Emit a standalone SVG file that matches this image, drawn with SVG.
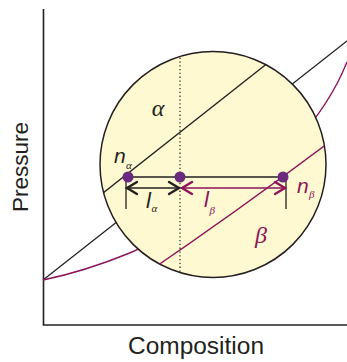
<svg xmlns="http://www.w3.org/2000/svg" width="347" height="362" viewBox="0 0 347 362">
<style>
.ax{stroke:#231f20;stroke-width:1.6;fill:none}
.blk{stroke:#231f20;stroke-width:1.3;fill:none}
.pur{stroke:#8c1459;stroke-width:1.4;fill:none}
.lbl{font-family:"Liberation Sans",Arial,sans-serif;fill:#231f20}
.it{font-family:"Liberation Sans",Arial,sans-serif;font-style:italic}
.gr{font-family:"Liberation Serif","Times New Roman",serif;font-style:italic}
.dot{fill:#6b2a7f}
</style>
<defs>
<clipPath id="cc"><circle cx="213" cy="164.5" r="113"/></clipPath>
</defs>
<g id="axes">
<line class="ax" x1="43.5" y1="9" x2="43.5" y2="325"/>
<line class="ax" x1="42.7" y1="325" x2="347" y2="325"/>
<text class="lbl" font-size="22" transform="translate(28,167) rotate(-90)" text-anchor="middle" textLength="90" lengthAdjust="spacingAndGlyphs">Pressure</text>
<text class="lbl" font-size="23" x="196" y="354" text-anchor="middle" textLength="136" lengthAdjust="spacingAndGlyphs">Composition</text>
</g>
<g id="outer-curves">
<line class="blk" x1="43" y1="280" x2="347" y2="41"/>
<path class="pur" d="M43,280 C150,258 300,180 347,62"/>
</g>
<g id="magnifier">
<circle cx="213" cy="164.5" r="113" fill="#fff9d2" stroke="#231f20" stroke-width="1.5"/>
<g clip-path="url(#cc)">
<line class="blk" x1="90" y1="203.3" x2="300" y2="37.6"/>
<path class="pur" d="M140,277.5 Q245,206 340,134"/>
<line x1="180" y1="50" x2="180" y2="280" stroke="#231f20" stroke-width="1.2" stroke-dasharray="1.3 2.5"/>
</g>
</g>
<g id="connectors">
<line class="blk" x1="128" y1="177" x2="285" y2="177" stroke-width="1.6"/>
<line class="blk" x1="126" y1="177" x2="126" y2="209" stroke-width="1.6"/>
<line class="blk" x1="286" y1="177" x2="286" y2="209" stroke-width="1.6"/>
<g id="arrow-la" stroke="#231f20" stroke-width="2.4" fill="none" stroke-linecap="round" stroke-linejoin="miter">
<line x1="127" y1="188" x2="179" y2="188" stroke-width="1.6"/>
<polyline points="137,182 127,188 137,194"/>
<polyline points="169,182 179,188 169,194"/>
</g>
<g id="arrow-lb" stroke="#8c1459" stroke-width="2.4" fill="none" stroke-linecap="round">
<line x1="182" y1="188" x2="285" y2="188" stroke-width="1.6"/>
<polyline points="192,182 182,188 192,194"/>
<polyline points="275,182 285,188 275,194"/>
</g>
</g>
<g id="n-alpha">
<circle class="dot" cx="128" cy="177" r="5.5"/>
<text class="it" font-size="21" fill="#231f20" x="114" y="163">n</text>
<text class="gr" font-size="11" fill="#231f20" x="126" y="169">α</text>
</g>
<g id="mid-point">
<circle class="dot" cx="180" cy="177" r="5.5"/>
</g>
<g id="n-beta">
<circle class="dot" cx="283" cy="177" r="5.5"/>
<text class="it" font-size="21" fill="#8c1459" x="297" y="193">n</text>
<text class="gr" font-size="11" fill="#8c1459" x="309" y="198">β</text>
</g>
<g id="labels">
<text class="gr" font-size="24" fill="#231f20" x="158" y="116" text-anchor="middle">α</text>
<text class="gr" font-size="24" fill="#8c1459" x="261" y="243" text-anchor="middle">β</text>
<text class="it" font-size="22" fill="#231f20" x="146" y="208">l</text>
<text class="gr" font-size="11" fill="#231f20" x="151.5" y="212">α</text>
<text class="it" font-size="22" fill="#8c1459" x="204" y="207">l</text>
<text class="gr" font-size="11" fill="#8c1459" x="209.5" y="214">β</text>
</g>
</svg>
